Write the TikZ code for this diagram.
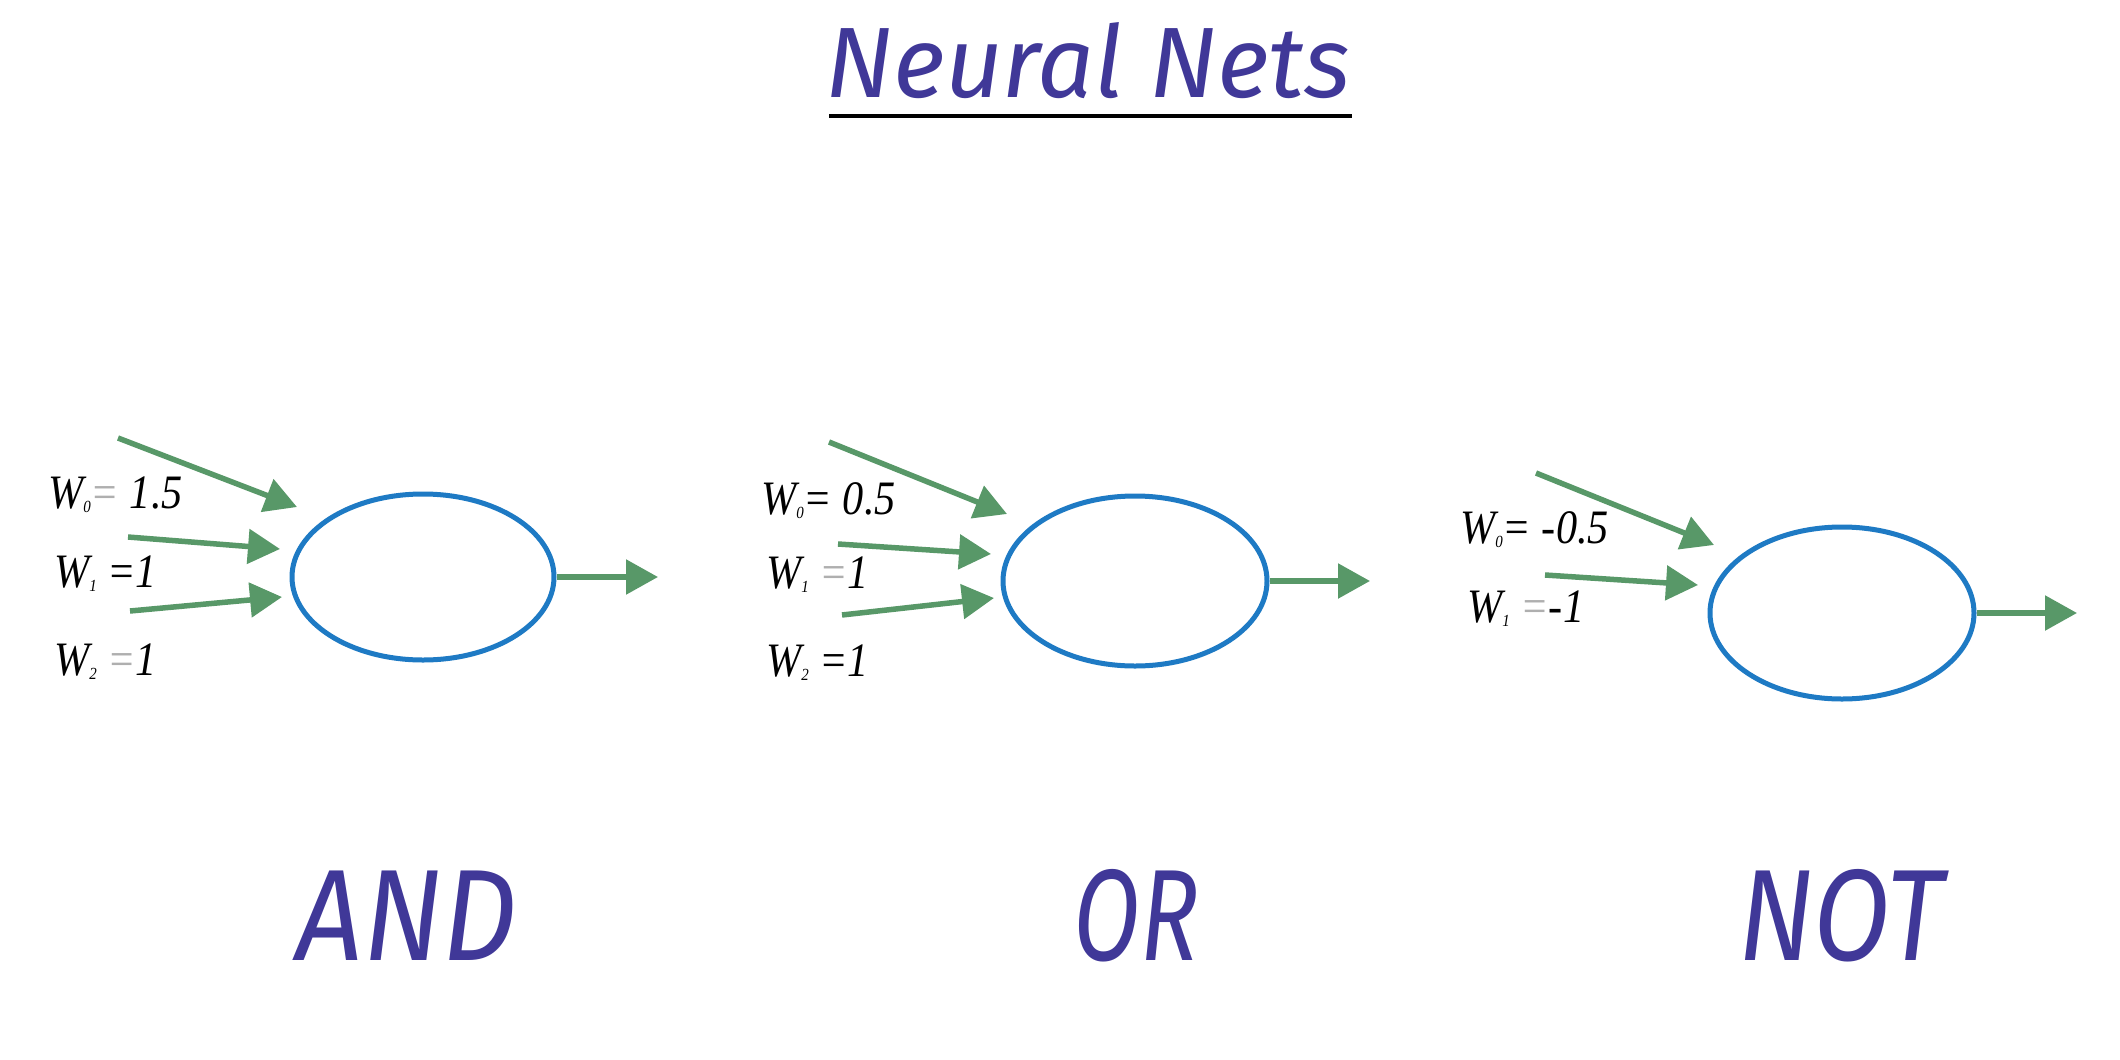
\documentclass[tikz,border=0pt]{standalone}
\usepackage{fontspec}
\usepackage{graphicx}
\setmainfont{Liberation Serif}
\newfontfamily\handfont{Fira Sans}
\usetikzlibrary{shapes.geometric,arrows.meta}
\definecolor{ink}{RGB}{64,56,152}
\definecolor{nblue}{RGB}{30,122,196}
\definecolor{agreen}{RGB}{88,152,104}
\definecolor{eqgray}{RGB}{175,175,175}
\newcommand{\wsub}[1]{\raisebox{-0.1em}{\fontsize{17}{17}\selectfont #1}}
\newcommand{\grayeq}{{\color{eqgray}=}}
\newcommand{\wl}[1]{\scalebox{0.88}[1]{#1}}
\begin{document}
\begin{tikzpicture}[x=1pt,y=1pt,
  neuron/.style={ellipse,draw=nblue,line width=5pt,inner sep=0pt},
  inarrow/.style={draw=agreen,line width=5.5pt,-{Triangle[length=32pt,width=34pt]}},
  wlabel/.style={anchor=base west,inner sep=0pt,font=\fontsize{48}{56}\selectfont\itshape},
  gate/.style={anchor=base,inner sep=0pt,text=ink,font=\handfont\itshape\fontsize{130}{150}\selectfont}]
\useasboundingbox (0,0) rectangle (2120,-1060);
\fill[white] (0,0) rectangle (2120,-1060);

% title
\node[anchor=base,inner sep=0pt,text=ink,font=\handfont\itshape\fontsize{100}{120}\selectfont] (title) at (1088,-97) {Neural Nets};
\coordinate (ulA) at (829,-116);
\coordinate (ulB) at (1352,-116);
\draw[line width=4.5pt] (ulA) -- (ulB);

% AND
\node[neuron,minimum width=262pt,minimum height=166pt] (and) at (423,-577) {};
\coordinate (andout) at (658,-577);
\draw[inarrow] (and.east) -- (andout);
\coordinate (a0s) at (118,-438); \coordinate (a0e) at (297,-507);
\coordinate (a1s) at (128,-537); \coordinate (a1e) at (280,-549);
\coordinate (a2s) at (130,-611); \coordinate (a2e) at (282,-597);
\draw[inarrow] (a0s) -- (a0e);
\draw[inarrow] (a1s) -- (a1e);
\draw[inarrow] (a2s) -- (a2e);
\node[wlabel] (aw0) at (48,-508) {\wl{W\wsub{0}\grayeq\ 1.5}};
\node[wlabel] (aw1) at (54,-587) {\wl{W\wsub{1} =1}};
\node[wlabel] (aw2) at (54,-675) {\wl{W\wsub{2} \grayeq1}};
\node[gate] (andlbl) at (407,-960) {\scalebox{0.9}[1]{AND}};

% OR
\node[neuron,minimum width=264pt,minimum height=170pt] (or) at (1135,-581) {};
\coordinate (orout) at (1370,-581);
\draw[inarrow] (or.east) -- (orout);
\coordinate (o0s) at (829,-442); \coordinate (o0e) at (1007,-514);
\coordinate (o1s) at (838,-544); \coordinate (o1e) at (991,-554);
\coordinate (o2s) at (842,-615); \coordinate (o2e) at (994,-598);
\draw[inarrow] (o0s) -- (o0e);
\draw[inarrow] (o1s) -- (o1e);
\draw[inarrow] (o2s) -- (o2e);
\node[wlabel] (ow0) at (761,-514) {\wl{W\wsub{0}= 0.5}};
\node[wlabel] (ow1) at (766,-588) {\wl{W\wsub{1} \grayeq1}};
\node[wlabel] (ow2) at (766,-676) {\wl{W\wsub{2} =1}};
\node[gate] (orlbl) at (1136,-960) {\scalebox{0.75}[1]{OR}};

% NOT
\node[neuron,minimum width=264pt,minimum height=172pt] (not) at (1842,-613) {};
\coordinate (notout) at (2077,-613);
\draw[inarrow] (not.east) -- (notout);
\coordinate (n0s) at (1536,-473); \coordinate (n0e) at (1714,-545);
\coordinate (n1s) at (1545,-575); \coordinate (n1e) at (1698,-585);
\draw[inarrow] (n0s) -- (n0e);
\draw[inarrow] (n1s) -- (n1e);
\node[wlabel] (nw0) at (1460,-543) {\wl{W\wsub{0}= -0.5}};
\node[wlabel] (nw1) at (1467,-622) {\wl{W\wsub{1} \grayeq-1}};
\node[gate] (notlbl) at (1841,-960) {\scalebox{0.86}[1]{NOT}};
\end{tikzpicture}
\end{document}
